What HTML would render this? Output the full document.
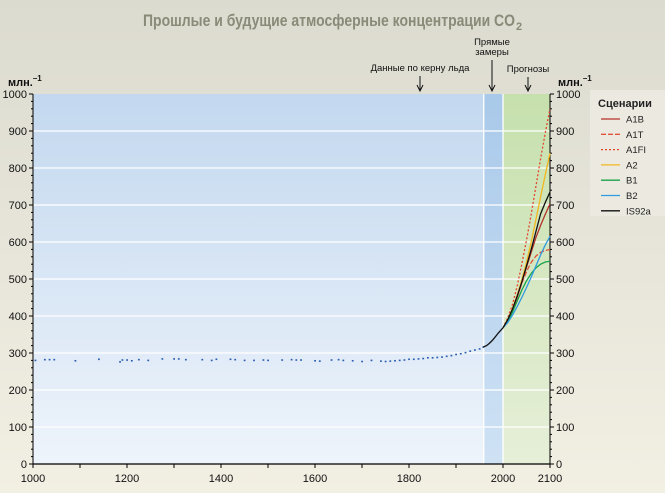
<!DOCTYPE html>
<html><head><meta charset="utf-8"><style>
body{margin:0;width:665px;height:493px;overflow:hidden;background:linear-gradient(#dcdbcf,#f2efe3);font-family:"Liberation Sans",sans-serif}
svg{position:absolute;left:0;top:0}
</style></head><body>
<svg width="665" height="493">
<defs>
<linearGradient id="gb" x1="0" y1="0" x2="0" y2="1"><stop offset="0" stop-color="#c3d8ef"/><stop offset="1" stop-color="#eef4fb"/></linearGradient>
<linearGradient id="gb2" x1="0" y1="0" x2="0" y2="1"><stop offset="0" stop-color="#a9c9ea"/><stop offset="1" stop-color="#cfe2f4"/></linearGradient>
<linearGradient id="gg" x1="0" y1="0" x2="0" y2="1"><stop offset="0" stop-color="#c6e0ad"/><stop offset="1" stop-color="#e6efd8"/></linearGradient>
</defs>
<text x="143" y="26" font-size="17" font-weight="bold" fill="#8a8a78" textLength="372" lengthAdjust="spacingAndGlyphs">Прошлые и будущие атмосферные концентрации CO</text>
<text x="516" y="30" font-size="11" font-weight="bold" fill="#8a8a78">2</text>
<g id="plot"></g>
<g id="legend">
<rect x="590" y="90" width="75" height="126" fill="#eceae0"/>
<text x="598" y="107" font-size="11" font-weight="bold" fill="#222">Сценарии</text>
</g>
</svg>
<script>
const categories=[2000,2010,2020,2030,2040,2050,2060,2070,2080,2090,2100];
const names=["A1B","A1T","A1FI","A2","B1","B2","IS92a"];
const A1B=[368,388,415,450,490,532,572,612,645,675,703];
const A1T=[368,388,415,450,488,520,545,562,572,577,580];
const A1FI=[368,395,430,480,540,605,675,750,825,895,960];
const A2=[368,390,420,455,498,545,600,660,722,782,840];
const B1=[368,385,410,440,470,495,515,530,540,546,548];
const B2=[368,382,402,425,450,477,505,535,565,592,615];
const IS92a=[368,390,418,453,492,535,580,628,676,707,735];
const series=[A1B,A1T,A1FI,A2,B1,B2,IS92a];
const colors=["#b5322a","#e0533a","#e2462d","#f2b71f","#1aa34a","#2f9be0","#111"];
const dashes=["","5,2","2,2","","","",""];
const iceYears=[1005,1025,1035,1045,1090,1140,1185,1190,1200,1210,1225,1245,1275,1300,1310,1325,1360,1380,1390,1420,1430,1450,1470,1490,1500,1530,1550,1560,1570,1600,1610,1635,1650,1660,1680,1700,1720,1740,1750,1760,1770,1780,1790,1800,1810,1820,1830,1840,1850,1860,1870,1880,1890,1900,1910,1920,1930,1940,1950,1958];
const iceVals=[280,282,282,282,279,283,276,281,281,279,282,280,284,284,284,282,282,280,283,283,282,280,280,281,280,281,282,281,281,279,278,281,282,280,279,277,280,278,277,278,279,280,281,283,283,284,285,287,287,288,289,291,293,296,298,301,305,308,311,316];
const obsYears=[1958,1965,1970,1975,1980,1985,1990,1995,2000];
const obsVals=[316,320,325,331,338,346,354,361,368];
const yTicks=[0,100,200,300,400,500,600,700,800,900,1000];
const xTicks=[1000,1200,1400,1600,1800,2000,2100];
const NS="http://www.w3.org/2000/svg";
const g=document.getElementById('plot');
const X=yr=>33+(yr-1000)*517/1100, Y=v=>464-v*0.37;
function el(t,a,p){const e=document.createElementNS(NS,t);for(const k in a)e.setAttribute(k,a[k]);(p||g).appendChild(e);return e;}
let r=el('rect',{x:X(1000),y:Y(1000),width:X(1959)-X(1000),height:Y(0)-Y(1000),fill:'url(#gb)'});

r=el('rect',{x:X(1959),y:Y(1000),width:X(2000)-X(1959),height:Y(0)-Y(1000),fill:'url(#gb2)'});

r=el('rect',{x:X(2000),y:Y(1000),width:X(2100)-X(2000),height:Y(0)-Y(1000),fill:'url(#gg)'});

yTicks.forEach(v=>{
 if(v>0&&v<1000){const l=el('line',{x1:X(1000),x2:X(2100),y1:Y(v),y2:Y(v),stroke:'#fff','stroke-width':1.2});}
 [[X(1000),'end',-4],[X(2100),'start',4]].forEach(([x,a,d])=>{
  el('line',{x1:x,x2:x+(d<0?-4:4),y1:Y(v),y2:Y(v),stroke:'#000'});
  const t=el('text',{x:x+d*1.5,y:Y(v)+4,'text-anchor':a,'font-size':11,fill:'#111'});t.textContent=v;
  
 });
 if(v<1000)for(let m=20;m<100;m+=20){el('line',{x1:X(1000),x2:X(1000)-2,y1:Y(v+m),y2:Y(v+m),stroke:'#000'});el('line',{x1:X(2100),x2:X(2100)+2,y1:Y(v+m),y2:Y(v+m),stroke:'#000'});}
});
[1959,2000].forEach(yr=>el('line',{x1:X(yr),x2:X(yr),y1:Y(1000),y2:Y(0),stroke:'#fff','stroke-width':1.3}));
el('line',{x1:X(1000),x2:X(1000),y1:Y(1000),y2:Y(0),stroke:'#000'});
el('line',{x1:X(2100),x2:X(2100),y1:Y(1000),y2:Y(0),stroke:'#000'});
el('line',{x1:X(1000),x2:X(2100),y1:Y(0),y2:Y(0),stroke:'#000','stroke-width':1.2});
for(let yr=1000;yr<=2100;yr+=100)el('line',{x1:X(yr),x2:X(yr),y1:Y(0),y2:Y(0)+4,stroke:'#000'});
xTicks.forEach(yr=>{const t=el('text',{x:X(yr),y:482,'text-anchor':'middle','font-size':11,fill:'#111'});t.textContent=yr;});
[[8,'млн.'],[558,'млн.']].forEach(([x,s])=>{const t=el('text',{x:x,y:86,'font-size':11,'font-weight':'bold',fill:'#111'});t.innerHTML=s+'<tspan dy="-5" font-size="8">–1</tspan>';});
iceYears.forEach((yr,i)=>{const c=el('rect',{x:X(yr)-0.8,y:Y(iceVals[i])-0.8,width:1.8,height:1.6,fill:'#2a5db0'});});
let p=el('polyline',{points:obsYears.map((y,i)=>X(y)+','+Y(obsVals[i])).join(' '),fill:'none',stroke:'#111','stroke-width':1.3});

series.forEach((s,i)=>{const l=el('polyline',{points:categories.map((y,j)=>X(y)+','+Y(s[j])).join(' '),fill:'none',stroke:colors[i],'stroke-width':1.3,'stroke-dasharray':dashes[i]});
 });
function txt(x,y,s,n){const t=el('text',{x:x,y:y,'text-anchor':'middle','font-size':9.5,fill:'#111'});t.textContent=s;}
txt(420,71,'Данные по керну льда','ice-core-label');txt(492,45,'Прямые','measurements-label');txt(492,55,'замеры','measurements-label-2');txt(528,72,'Прогнозы','projections-label');
[[420,76],[492,60],[528,77]].forEach(([x,y0])=>{el('line',{x1:x,x2:x,y1:y0,y2:90,stroke:'#111'});el('path',{d:`M${x-3},85 L${x},91 L${x+3},85`,fill:'none',stroke:'#111'});});
const lg=document.getElementById('legend');
names.forEach((n,i)=>{const y=119+i*15.3;
 const l=el('line',{x1:601,x2:620,y1:y,y2:y,stroke:colors[i],'stroke-width':1.3,'stroke-dasharray':dashes[i]},lg);
 
 const t=el('text',{x:626,y:y+3.5,'font-size':9.5,fill:'#222'},lg);t.textContent=n;
 });
</script>
</body></html>
